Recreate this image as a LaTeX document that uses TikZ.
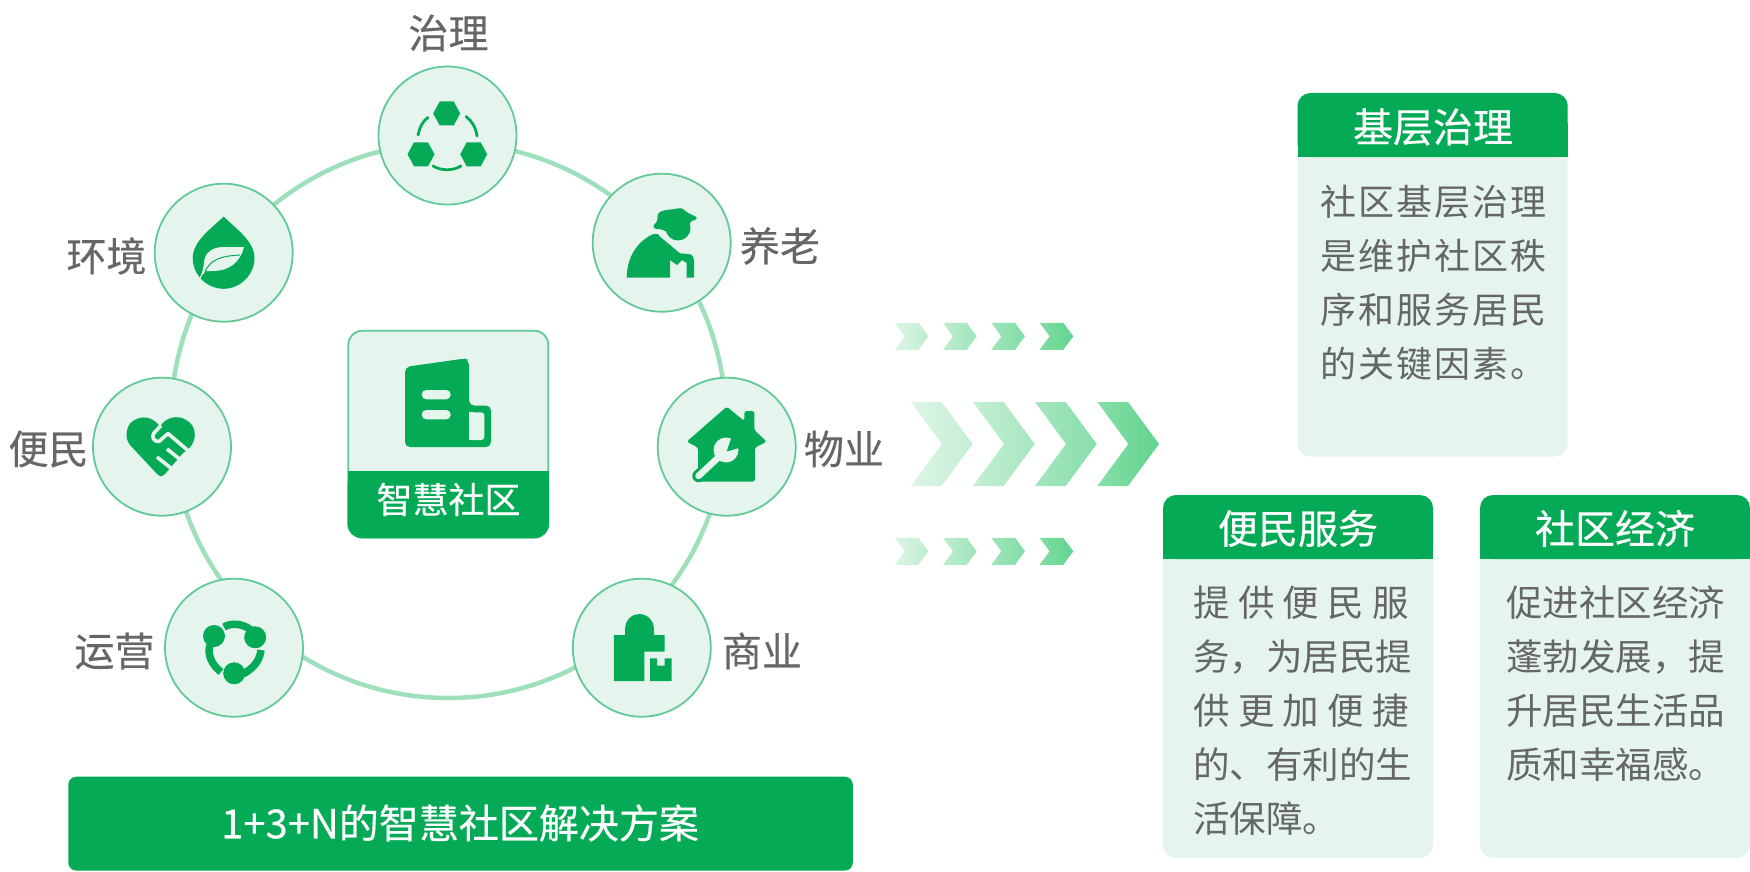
\documentclass[tikz,border=0pt]{standalone}
\usepackage{fontspec}
\setmainfont{Noto Sans CJK SC}
\newfontfamily\medf[FakeBold=0.35]{Noto Sans CJK SC}
\newfontfamily\spacedf[LetterSpace=5.5]{Noto Sans CJK SC}
\usetikzlibrary{shadings,calc}
\definecolor{gmain}{HTML}{05AA56}
\definecolor{glight}{HTML}{E5F5EE}
\definecolor{gborder}{HTML}{62C997}
\definecolor{gring}{HTML}{9FE0BC}
\definecolor{gtext}{HTML}{666666}
\definecolor{gbody}{HTML}{666666}
\definecolor{ca}{HTML}{DDF5E6}
\definecolor{cb}{HTML}{62D48F}
\tikzset{
 x=1pt,y=-1pt,
 hub/.style={circle,draw=gborder,fill=glight,line width=1.8pt,minimum size=138pt,inner sep=0pt},
 ico/.style={fill=gmain,draw=none},
 lbl/.style={text=gtext,font=\medf\fontsize{40}{40}\selectfont,inner sep=0pt},
 boxhead/.style={text=white,font=\medf\fontsize{40}{40}\selectfont,inner sep=0pt},
 body/.style={text=gbody,font=\fontsize{36.5}{54}\selectfont,inner sep=0pt,align=left,anchor=north west},
}
\newcommand{\hexa}[2]{\fill[ico] (#1-13.5,#2) -- (#1-7,#2-12) -- (#1+7,#2-12) -- (#1+13.5,#2) -- (#1+7,#2+12) -- (#1-7,#2+12) -- cycle;}
\newcommand{\card}[5]{% x1,y1,x2,y2 name
 \fill[glight,rounded corners=13pt] (#1,#2) rectangle (#3,#4);
 \fill[gmain,rounded corners=13pt] (#1,#2) -- (#3,#2) -- (#3,#2+64) -- (#1,#2+64) -- cycle;
 \fill[gmain] (#1,#2+30) rectangle (#3,#2+64);
}
\newcommand{\chev}[7]{% x,y(center),w,h,depth,colL,colR
 \path[left color=#6,right color=#7] (#1,#2-#4/2) -- ++(#3-#5,0) -- ++(#5,#4/2) -- ++(-#5,#4/2) -- ++(-#3+#5,0) -- ++(#5,-#4/2) -- cycle;
}
\begin{document}
\begin{tikzpicture}
\useasboundingbox (0,0) rectangle (1750,872);
\draw[gring,line width=4.5pt] (448.3,420.5) circle[radius=277.5];
% hubs
\node[hub] (zl) at (447.5,135.5) {};
\node[hub] (yl) at (661.7,242.7) {};
\node[hub] (hj) at (223.7,252.7) {};
\node[hub] (bm) at (162,446.7) {};
\node[hub] (wy) at (726.7,446.7) {};
\node[hub] (yy) at (234,647.7) {};
\node[hub] (sy) at (641.8,647.7) {};
% labels
\node[lbl] (t1) at (448.5,33) {治理};
\node[lbl] (t2) at (780,246) {养老};
\node[lbl] (t3) at (106.5,256) {环境};
\node[lbl] (t4) at (48.5,449) {便民};
\node[lbl] (t5) at (844,449) {物业};
\node[lbl] (t6) at (114.5,651) {运营};
\node[lbl] (t7) at (762,651) {商业};
% icon: zhili
\hexa{446.7}{113.5}
\hexa{421}{154.3}
\hexa{473.7}{154.3}
\draw[gmain,line width=2.8pt,line cap=round] (418,135) .. controls (420,126) and (423,121) .. (428,117.5);
\draw[gmain,line width=2.8pt,line cap=round] (466,116.5) .. controls (472,121) and (476,128) .. (477,136);
\draw[gmain,line width=2.8pt,line cap=round] (433,166) .. controls (441,171) and (453,171) .. (461,166);
% icon: elder
\fill[ico] (626.7,277.7) .. controls (627,254) and (640,240) .. (653.3,234) -- (658,234) -- (660,236.7) -- (680,253.3) -- (688,254) .. controls (692,254) and (694,257) .. (694,260) -- (694,277.7) -- (686.7,277.7) -- (686.7,263) -- (682,260) -- (677,265) -- (670,260) -- (670,277.7) -- cycle;
\fill[ico] (678,228) circle[radius=12.5];
\fill[ico,rounded corners=1.5pt] (653,227) .. controls (654,224) and (656,223) .. (657,222) -- (658,213) -- (663,210.5) -- (681.7,208) -- (688,213) -- (696.7,217) -- (697,219) -- (690,221.7) -- (690,228) -- (668,232) -- (660,229) -- (655,229) -- cycle;
% icon: env
\fill[ico] (223.7,216.5) .. controls (235,228) and (254.5,241) .. (254.5,258) .. controls (254.5,275) and (240,288.8) .. (223.7,288.8) .. controls (207,288.8) and (192.7,275) .. (192.7,258) .. controls (192.7,241) and (212,228) .. (223.7,216.5) -- cycle;
\fill[glight] (201,276) .. controls (203,270) and (204,265) .. (204,262) .. controls (205,252) and (213,247) .. (224,247) -- (244,247) .. controls (240,262) and (230,271) .. (212,271) -- (206,271) -- cycle;
\draw[gmain,line width=1pt] (205,272) .. controls (210,260) and (220,256) .. (240,255);
\draw[glight,line width=1pt] (200,278) -- (204,270);
% icon: handshake heart
\fill[ico,rounded corners=1pt] (130,445) .. controls (124,437) and (127,425) .. (133,421) .. controls (142,415) and (153,417) .. (160,426.7) .. controls (166,417) and (178,415) .. (186,420) .. controls (195,425) and (199,438) .. (188,449.5) -- (183,453) -- (165,474) -- (161.7,476.5) -- (158,475) -- cycle;
\draw[glight,line width=3.6pt,line join=round] (161,425.5) -- (154,433) .. controls (151,437) and (154,442) .. (159,441.5) -- (168,433.5) -- (188,450.5);
\draw[glight,line width=3.6pt] (167,449) -- (182,461);
\draw[glight,line width=3.6pt] (157,457) -- (172,469);
% icon: house
\fill[ico,rounded corners=2.5pt] (726.7,406.7) -- (744.3,421) -- (744.3,411) -- (754.3,411) -- (754.3,430) -- (766.7,441.7) -- (755,447.5) -- (755,481.7) -- (698,481.7) -- (698,447.5) -- (686.7,441.7) -- cycle;
\draw[gmain,line width=12.5pt,line cap=round] (698.5,476) -- (722,454);
\draw[glight,line width=6.5pt,line cap=round] (698.5,476) -- (722,454);
\fill[glight] (726,450) circle[radius=12.5];
\fill[ico] (726.7,451.5) -- (733,433) -- (746,446) -- cycle;
% icon: yunying
\draw[gmain,line width=7.5pt] (224,627) .. controls (231,622.5) and (243,623.5) .. (251,630);
\draw[gmain,line width=7.5pt] (210,645) .. controls (207,655) and (212,665) .. (221,672);
\draw[gmain,line width=7.5pt] (261,650) .. controls (260,660) and (254,668) .. (243,674);
\fill[ico] (214,636) circle[radius=11];
\fill[ico] (255.2,637.3) circle[radius=11];
\fill[ico] (234.2,673.3) circle[radius=11];
% icon: shangye
\fill[ico] (613.8,681) -- (613.8,635) -- (625,635) -- (625,630) .. controls (625,620) and (632,614) .. (639,614) .. controls (647,614) and (654,620) .. (654,630) -- (654,635) -- (664.7,635) -- (664.7,651.7) -- (644.4,651.7) -- (644.4,681) -- cycle;
\fill[ico] (650.2,658.3) -- (657,658.3) -- (657,665.7) -- (664.7,665.7) -- (664.7,658.3) -- (671.6,658.3) -- (671.6,681) -- (650.2,681) -- cycle;
% centre card
\node[draw=gborder,fill=glight,line width=1.8pt,rounded corners=14pt,minimum width=200pt,minimum height=207pt,inner sep=0pt] (cc) at (448.3,434.2) {};
\fill[gmain,rounded corners=14pt] (347.5,471) -- (549,471) -- (549,538) -- (347.5,538) -- cycle;
\fill[gmain] (347.5,471) rectangle (549,500);
\node[text=white,font=\medf\fontsize{36}{36}\selectfont,inner sep=0pt] (ct) at (448.5,499.5) {智慧社区};
\fill[ico,rounded corners=5pt] (405,367) -- (465,358.5) -- (469,360) -- (469,405.5) -- (491,405.5) -- (491,447) -- (405,447) -- cycle;
\fill[glight,rounded corners=3pt] (469,412.3) -- (484.3,412.3) -- (484.3,440) -- (469,440) -- cycle;
\fill[glight] (469,412.3) rectangle (474,440);
\fill[glight,rounded corners=4.5pt] (421.7,390) rectangle (450.7,399.3);
\fill[glight,rounded corners=4.5pt] (421.7,410) rectangle (450.7,419.3);
% banner
\fill[gmain,rounded corners=8pt] (68.3,776.7) rectangle (852.8,870.6);
\node[text=white,font=\medf\fontsize{40}{40}\selectfont,inner sep=0pt] (bn) at (460,823) {1+3+N的智慧社区解决方案};
% chevrons
\foreach \cy in {336.3,551.3}{
 \chev{894.7}{\cy}{33.7}{27}{10}{ca}{cb!25!ca}
 \chev{943}{\cy}{33.7}{27}{10}{cb!25!ca}{cb!50!ca}
 \chev{991.3}{\cy}{33.7}{27}{10}{cb!50!ca}{cb!75!ca}
 \chev{1039.6}{\cy}{33.7}{27}{10}{cb!75!ca}{cb}
}
\chev{911}{444}{61.7}{84}{31}{ca}{cb!20!ca}
\chev{973}{444}{61.7}{84}{31}{cb!20!ca}{cb!45!ca}
\chev{1035}{444}{61.7}{84}{31}{cb!45!ca}{cb!70!ca}
\chev{1097.3}{444}{61.7}{84}{31}{cb!70!ca}{cb}
% cards
\card{1297.5}{93}{1567.7}{456.7}{a}
\node[boxhead] (h1) at (1433,127) {基层治理};
\node[body,font=\spacedf\fontsize{36}{54}\selectfont] (b1) at (1320,184.5) {社区基层治理\\是维护社区秩\\序和服务居民\\的关键因素。};
\card{1163}{495}{1433}{858}{b}
\node[boxhead] (h2) at (1298,528.5) {便民服务};
\node[body,text width=216pt] (b2) at (1193,586) {提\hfill 供\hfill 便\hfill 民\hfill 服\\务，为居民提\\供\hfill 更\hfill 加\hfill 便\hfill 捷\\的、有利的生\\活保障。};
\card{1480}{495}{1750}{858}{c}
\node[boxhead] (h3) at (1615,528.5) {社区经济};
\node[body] (b3) at (1506,586) {促进社区经济\\蓬勃发展，提\\升居民生活品\\质和幸福感。};
\end{tikzpicture}
\end{document}
